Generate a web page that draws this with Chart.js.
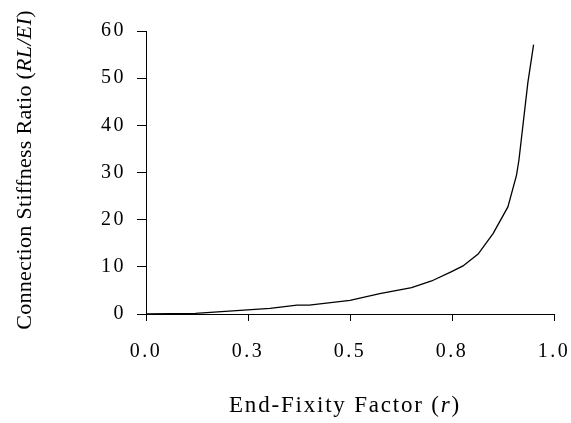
<!DOCTYPE HTML>
<html>
<head>
    <script src="https://cdn.jsdelivr.net/npm/chart.js"></script>
    <style>
        body { margin: 0; background: #fff; }
        #chartContainer { width: 571px; height: 423px; }
    </style>
</head>
<body>

<div id="chartContainer">
    <canvas id="myChart" width="571" height="423"></canvas>
</div>

<script type="text/javascript">
    // values
    const fixity = [0.0, 0.121, 0.304, 0.37, 0.40, 0.50, 0.573, 0.651, 0.70, 0.749, 0.777, 0.814, 0.851, 0.887, 0.908, 0.914, 0.936, 0.950];
    const stiffness = [0.0, 0.14, 1.2, 1.9, 1.9, 2.9, 4.3, 5.6, 7.0, 9.0, 10.2, 12.7, 17.1, 22.7, 29.4, 32.6, 49.1, 57.1];
    const xTickLabels = ['0.0', '0.3', '0.5', '0.8', '1.0'];
    const xTitle = [['End-Fixity Factor (', false], ['r', true], [')', false]];
    const yTitle = [['Connection Stiffness Ratio (', false], ['RL/EI', true], [')', false]];

    const serif = "'Liberation Serif', 'Times New Roman', serif";

    function drawParts(ctx, parts, cx, cy, angle, size, spacing) {
        ctx.save();
        ctx.translate(cx, cy);
        ctx.rotate(angle);
        ctx.letterSpacing = spacing + 'px';
        ctx.fillStyle = '#000';
        ctx.textBaseline = 'middle';
        ctx.textAlign = 'left';
        let total = 0;
        parts.forEach(p => {
            ctx.font = (p[1] ? 'italic ' : '') + size + 'px ' + serif;
            total += ctx.measureText(p[0]).width;
        });
        let x = -total / 2;
        parts.forEach(p => {
            ctx.font = (p[1] ? 'italic ' : '') + size + 'px ' + serif;
            ctx.fillText(p[0], x, 0);
            x += ctx.measureText(p[0]).width;
        });
        ctx.restore();
    }

    const axisTitles = {
        id: 'axisTitles',
        beforeDraw(chart) {
            // the tick labels in the picture are a bit spaced out
            chart.ctx.letterSpacing = '2.5px';
        },
        afterDraw(chart) {
            drawParts(chart.ctx, xTitle, 345, 406, 0, 23, 1.8);
            drawParts(chart.ctx, yTitle, 25, 170, -Math.PI / 2, 22, 0.3);
        }
    };

    const points = fixity.map((v, i) => ({ x: v, y: stiffness[i] }));

    const config = {
        type: 'line',
        data: {
            datasets: [{
                data: points,
                borderColor: '#000',
                borderWidth: 1.3,
                pointRadius: 0,
                tension: 0,
                fill: false
            }]
        },
        plugins: [axisTitles],
        options: {
            responsive: false,
            animation: false,
            layout: { padding: { left: 0, top: 31, right: 17, bottom: 0 } },
            plugins: { legend: { display: false }, tooltip: { enabled: false } },
            scales: {
                x: {
                    type: 'linear',
                    min: 0,
                    max: 1,
                    afterFit: function (scale) {
                        scale.height = 109;
                        scale.paddingLeft = 0;
                        scale.paddingRight = 0;
                    },
                    afterBuildTicks: function (scale) {
                        scale.ticks = xTickLabels.map((t, i) => ({ value: i * 0.25 }));
                    },
                    border: { color: '#000', width: 1 },
                    grid: { drawOnChartArea: false, drawTicks: true, tickLength: 7, color: '#000' },
                    ticks: {
                        color: '#000',
                        padding: 19,
                        maxRotation: 0,
                        font: { family: serif, size: 20 },
                        callback: function (value) { return xTickLabels[Math.round(value / 0.25)]; }
                    }
                },
                y: {
                    min: 0,
                    max: 60,
                    afterFit: function (scale) {
                        scale.width = 146;
                        scale.paddingTop = 0;
                        scale.paddingBottom = 0;
                    },
                    border: { color: '#000', width: 1 },
                    grid: { drawOnChartArea: false, drawTicks: true, tickLength: 9, color: '#000' },
                    ticks: {
                        color: '#000',
                        stepSize: 10,
                        padding: 11,
                        font: { family: serif, size: 20 }
                    }
                }
            }
        }
    };

    new Chart(document.getElementById('myChart'), config);
</script>
</body>
</html>
